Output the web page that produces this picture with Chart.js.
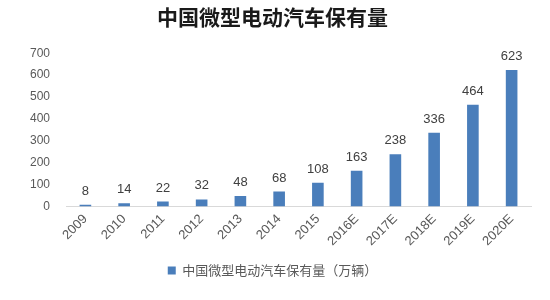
<!DOCTYPE html>
<html><head><meta charset="utf-8">
<script src="https://cdn.jsdelivr.net/npm/chart.js@4"></script>
<style>html,body{margin:0;padding:0;background:#fff}#w{width:550px;height:300px}</style>
</head><body><div id="w"><canvas id="c"></canvas></div>
<script>
const categories = ["2009","2010","2011","2012","2013","2014","2015","2016E","2017E","2018E","2019E","2020E"];
const values = [8,14,22,32,48,68,108,163,238,336,464,623];
const yTicks = [0,100,200,300,400,500,600,700];
const seriesName = "中国微型电动汽车保有量（万辆）";
const titleText = "中国微型电动汽车保有量";

const labelPlugin = {
  id:'vals',
  afterDatasetsDraw(chart){
    const ctx = chart.ctx;
    const meta = chart.getDatasetMeta(0);
    ctx.save();
    ctx.font = '13px "Liberation Sans", Arial, sans-serif';
    ctx.fillStyle = '#404040';
    ctx.textAlign = 'center';
    ctx.textBaseline = 'bottom';
    meta.data.forEach((b,i)=>{ ctx.fillText(String(values[i]), b.x, b.y - 7); });
    ctx.restore();
  }
};

new Chart(document.getElementById('c'), {
  type:'bar',
  data:{labels:categories, datasets:[{label:seriesName, data:values, backgroundColor:'#4a7ebb', barPercentage:0.6, categoryPercentage:0.5}]},
  options:{
    responsive:true, maintainAspectRatio:false, animation:false,
    layout:{padding:{left:14,right:19,top:0,bottom:13}},
    plugins:{
      title:{display:true, text:titleText, color:'#1a1a1a', font:{family:'"Noto Sans CJK SC"', size:21, weight:'bold'}, padding:{top:4,bottom:24}},
      legend:{position:'bottom', labels:{usePointStyle:true, pointStyle:'rect', boxWidth:8, boxHeight:8, color:'#595959', font:{family:'"Noto Sans CJK SC"', size:13}, padding:10}},
      tooltip:{enabled:false}
    },
    scales:{
      x:{grid:{display:false, drawTicks:false}, border:{display:true,color:'#d9d9d9'},
         ticks:{maxRotation:45,minRotation:45,color:'#595959',font:{family:'"Liberation Sans", Arial',size:13},padding:5}},
      y:{min:0,max:700,afterBuildTicks(a){a.ticks=yTicks.map(v=>({value:v}));},
         grid:{display:false,drawTicks:false}, border:{display:false},
         ticks:{color:'#595959',font:{family:'"Liberation Sans", Arial',size:12},padding:16}}
    }
  },
  plugins:[labelPlugin]
});
</script></body></html>
